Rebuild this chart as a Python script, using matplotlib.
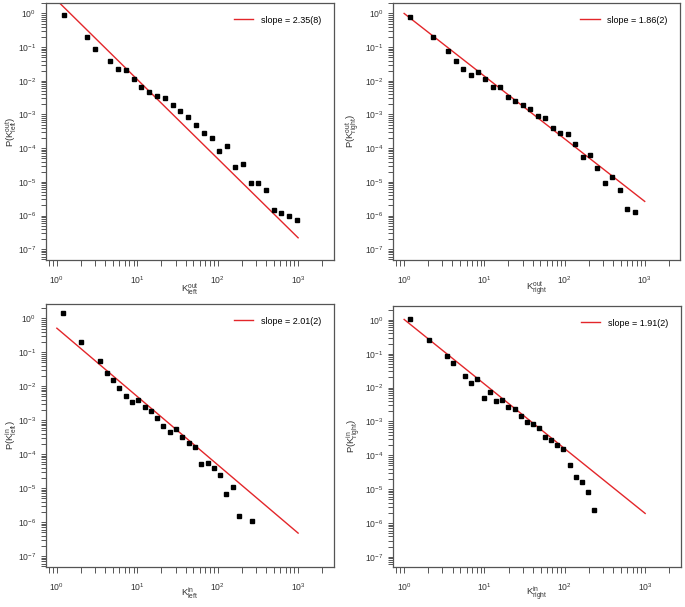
#!/usr/bin/env python3
import numpy as np
import matplotlib
matplotlib.use("Agg")
import matplotlib.pyplot as plt
from matplotlib.ticker import FixedLocator, LogLocator, NullFormatter

plt.rcParams["font.family"] = ["Liberation Sans", "DejaVu Sans"]
plt.rcParams["mathtext.default"] = "regular"
plt.rcParams["font.size"] = 6.5

GREY = "#555555"
RED = "#e3262a"

# K_left^out
k_left_out = [1.21, 2.38, 2.99, 4.64, 5.77, 7.26, 9.03, 11.2, 14.1, 17.6,
              21.9, 27.5, 34.3, 43.1, 53.7, 66.8, 84, 104.5, 130, 163,
              204, 256, 318, 397, 499, 621, 773, 962]
p_left_out = [0.89, 0.20, 0.086, 0.040, 0.022, 0.021, 0.0117, 0.0066, 0.0048,
              0.0035, 0.0030, 0.0019, 0.00128, 0.00087, 0.0005, 0.00028,
              0.000204, 8.5e-5, 1.18e-4, 2.75e-5, 3.4e-5, 9.1e-6, 9.5e-6,
              5.6e-6, 1.5e-6, 1.2e-6, 9.5e-7, 7.6e-7]

# K_right^out
k_right_out = [1.2, 2.30, 3.55, 4.38, 5.46, 6.75, 8.33, 10.3, 12.8, 15.8,
               19.8, 24.4, 30.1, 37.2, 46.4, 57.3, 71.5, 88.3, 109, 135,
               168, 207, 256, 316, 394, 487, 601, 750]
p_right_out = [0.76, 0.196, 0.079, 0.040, 0.0228, 0.0145, 0.018, 0.011,
               0.0064, 0.0064, 0.0033, 0.00253, 0.00193, 0.00147, 0.00092,
               0.00078, 0.00041, 0.000276, 0.00027, 1.34e-4, 5.6e-5, 6.2e-5,
               2.56e-5, 9.1e-6, 1.42e-5, 5.7e-6, 1.55e-6, 1.26e-6]

# K_left^in
k_left_in = [1.18, 2.02, 3.44, 4.16, 5.03, 5.97, 7.15, 8.57, 10.3, 12.3,
             14.7, 17.6, 21.1, 25.3, 30.3, 36.3, 43.5, 52.1, 62.4, 74.8,
             89.6, 107, 128.5, 154, 184.5, 265]
p_left_in = [1.40, 0.20, 0.055, 0.025, 0.0153, 0.0087, 0.0053, 0.0035,
             0.0039, 0.0024, 0.00187, 0.0012, 0.00066, 0.00044, 0.00056,
             0.00031, 0.000214, 0.000159, 5.0e-5, 5.4e-5, 3.8e-5, 2.4e-5,
             6.7e-6, 1.1e-5, 1.5e-6, 1.07e-6]

# K_right^in
k_right_in = [1.19, 2.02, 3.41, 4.08, 5.75, 6.89, 8.17, 9.78, 11.6, 13.9,
              16.6, 19.8, 23.7, 28.1, 33.7, 39.9, 47.8, 56.8, 68, 80.7,
              95.7, 115, 136, 163, 193, 232]
p_right_in = [1.05, 0.257, 0.083, 0.0525, 0.0227, 0.0138, 0.0185, 0.005,
              0.0073, 0.0041, 0.0043, 0.00276, 0.0024, 0.00144, 0.00098,
              0.00083, 0.00066, 0.00035, 0.00029, 0.0002, 0.000152, 5.2e-5,
              2.36e-5, 1.65e-5, 8.3e-6, 2.34e-6]

# power-law fits: P = A * K^-slope, drawn for K in [1, 1000]
fit_slopes = [2.35, 1.86, 2.01, 1.91]
fit_labels = ["slope = 2.35(8)", "slope = 1.86(2)",
              "slope = 2.01(2)", "slope = 1.91(2)"]
fit_amps = [2.45, 1.0, 0.51, 1.03]
fit_range = [1, 1000]

xticks = [1, 10, 100, 1000]
yticks = [1e-7, 1e-6, 1e-5, 1e-4, 1e-3, 1e-2, 1e-1, 1]

xlabels = [r"$K^{out}_{left}$", r"$K^{out}_{right}$",
           r"$K^{in}_{left}$", r"$K^{in}_{right}$"]
ylabels = [r"P($K^{out}_{left}$)", r"P($K^{out}_{right}$)",
           r"P($K^{in}_{left}$)", r"P($K^{in}_{right}$)"]

fig = plt.figure(figsize=(6.85, 6.07), dpi=100)
W, H = 685.0, 607.0
# pixel boxes (left, top, right, bottom)
boxes = [(46, 3, 333.5, 260), (393.3, 3, 680, 260),
         (46, 304, 333.5, 567), (393.3, 306, 680.5, 567)]
ylims = [(10 ** -7.32, 10 ** 0.31), (10 ** -7.32, 10 ** 0.31),
         (10 ** -7.32, 10 ** 0.42), (10 ** -7.30, 10 ** 0.41)]
# label centres in pixels: (ylabel x, xlabel y)
label_pos = [(11, 289), (353, 289), (11, 593), (353, 593)]

data = [(k_left_out, p_left_out), (k_right_out, p_right_out),
        (k_left_in, p_left_in), (k_right_in, p_right_in)]


def draw_panel(i):
    l, t, r, b = boxes[i]
    ax = fig.add_axes([l / W, 1 - b / H, (r - l) / W, (b - t) / H])
    ax.set_xscale("log")
    ax.set_yscale("log")
    k, p = data[i]
    xf = np.array(fit_range, dtype=float)
    ax.plot(xf, fit_amps[i] * xf ** (-fit_slopes[i]), color=RED, lw=1.0,
            label=fit_labels[i], zorder=2)
    ax.plot(k, p, ls="none", marker="s", ms=3.3, color="black", zorder=3)
    ax.set_xlim(10 ** -0.135, 10 ** 3.44)
    ax.set_ylim(*ylims[i])

    ax.xaxis.set_major_locator(FixedLocator(xticks))
    ax.yaxis.set_major_locator(FixedLocator(yticks))
    for axis in (ax.xaxis, ax.yaxis):
        axis.set_minor_locator(LogLocator(base=10, subs=np.arange(2, 10),
                                          numticks=200))
        axis.set_minor_formatter(NullFormatter())
    ax.tick_params(which="both", direction="out", color=GREY, width=0.7,
                   labelcolor="#333333", labelsize=6.2)
    ax.tick_params(axis="x", which="both", length=4, pad=6)
    ax.tick_params(axis="y", which="both", length=3.5, pad=3.5)
    for s in ax.spines.values():
        s.set_color(GREY)
        s.set_linewidth(0.9)

    ax.set_xlabel(xlabels[i], fontsize=6.8, color="#333333")
    ax.set_ylabel(ylabels[i], fontsize=6.8, color="#333333")
    lx, ly = label_pos[i]
    ax.yaxis.set_label_coords((lx - l) / (r - l), 0.5)
    ax.xaxis.set_label_coords(0.5, (b - ly) / (b - t))
    ax.xaxis.label.set_va("center")
    ax.yaxis.label.set_va("center")
    ax.legend(loc="upper right", frameon=False, fontsize=6.5,
              handlelength=2.2, borderaxespad=1.0, handletextpad=0.8)
    return ax


for i in range(4):
    draw_panel(i)

fig.savefig("out.png", dpi=100)
